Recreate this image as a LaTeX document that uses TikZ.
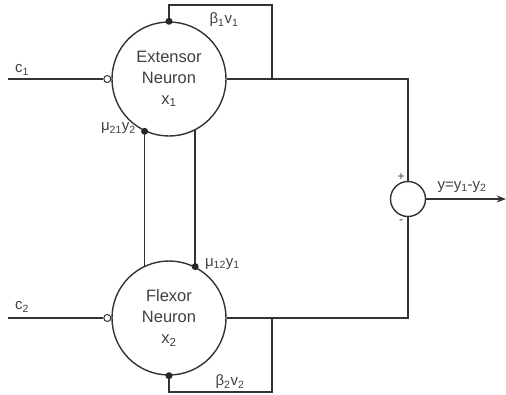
\documentclass[tikz,border=0pt]{standalone}
\usepackage{fontspec}
\setmainfont{Liberation Sans}
\usetikzlibrary{arrows.meta,positioning,calc}
\tikzset{every picture/.style={line width=1.4pt}}

\begin{document}
\begin{tikzpicture}[x=1pt, y=-1pt, >=Stealth, draw=black!80, text=black!75,
    neuron/.style={draw, circle, minimum size=114pt, inner sep=0pt, align=center,
        font=\fontsize{16.5}{21}\selectfont},
    adder/.style={draw, circle, minimum size=35pt, inner sep=0pt},
    lbl/.style={font=\fontsize{15}{17}\selectfont, inner sep=1pt},
    sgn/.style={font=\fontsize{12}{14}\selectfont, inner sep=1pt},
    excite/.style={fill=black!85, circle, inner sep=0pt, minimum size=7pt},
    inhibit/.style={draw, fill=white, circle, inner sep=0pt, minimum size=7pt, line width=1pt}]

    \useasboundingbox (0,0) rectangle (506,394);

    % --- Neuronen ---
    \node[neuron] (ext) at (169,79) {Extensor\\Neuron\\x\textsubscript{1}};
    \node[neuron] (flx) at (169,318) {Flexor\\Neuron\\x\textsubscript{2}};
    \node[adder] (sum) at (408,199) {};

    % --- Eingaenge c_1, c_2 ---
    \coordinate (c1in) at (8,79);
    \coordinate (c2in) at (8,318);
    \node[inhibit, left=0pt of ext.west] (c1dot) {};
    \node[inhibit, left=0pt of flx.west] (c2dot) {};
    \draw (c1in) -- (c1dot);
    \draw (c2in) -- (c2dot);
    \node[lbl] (c1) at (22,70) {c\textsubscript{1}};
    \node[lbl] (c2) at (22,307) {c\textsubscript{2}};

    % --- Ausgaenge und Selbstrueckkopplung ---
    \coordinate (j1) at (272,79);
    \coordinate (fb1) at (272,5);
    \coordinate (j2) at (272,318);
    \coordinate (fb2) at (272,392);
    \draw (ext.east) -| (sum.north);
    \draw (flx.east) -| (sum.south);
    \draw (j1) -- (fb1) -| (ext.north);
    \draw (j2) -- (fb2) -| (flx.south);
    \node[excite] (d1) at (ext.north) {};
    \node[excite] (d2) at (flx.south) {};
    \node[lbl] (b1) at (224,20) {β\textsubscript{1}v\textsubscript{1}};
    \node[lbl] (b2) at (230,382) {β\textsubscript{2}v\textsubscript{2}};

    % --- gegenseitige Hemmung ---
    \draw (ext.-115) -- (flx.115);
    \draw (ext.-63) -- (flx.63);
    \node[excite] (d3) at (ext.-115) {};
    \node[excite] (d4) at (flx.63) {};
    \node[lbl, anchor=east] (m21) at ([xshift=-3pt,yshift=3pt]d3.west) {μ\textsubscript{21}y\textsubscript{2}};
    \node[lbl, anchor=west] (m12) at ([xshift=4pt,yshift=3pt]d4.east) {μ\textsubscript{12}y\textsubscript{1}};

    % --- Summation ---
    \node[sgn] (plus) at (401,177) {+};
    \node[sgn] (minus) at (401,222) {-};
    \coordinate (yout) at (506,199);
    \draw[->] (sum.east) -- (yout);
    \node[lbl] (ylbl) at (462,187) {y=y\textsubscript{1}-y\textsubscript{2}};

\end{tikzpicture}
\end{document}
